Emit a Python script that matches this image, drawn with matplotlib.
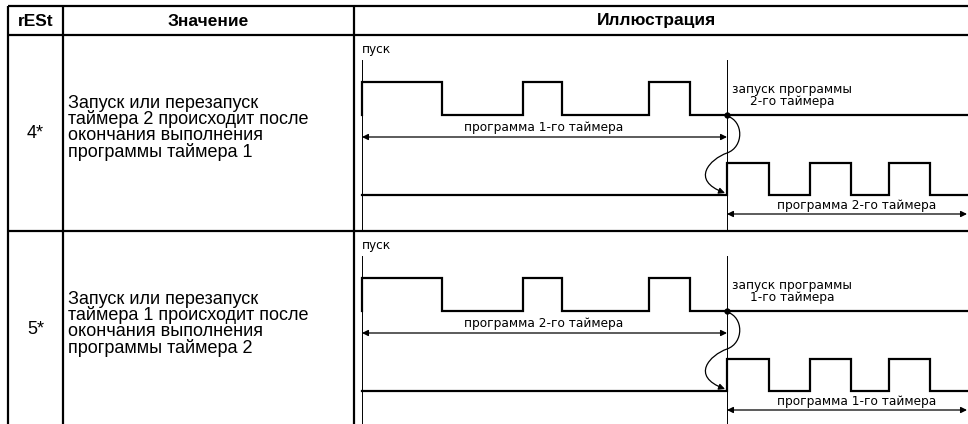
import matplotlib
matplotlib.use('Agg')
import matplotlib.pyplot as plt
from matplotlib.patches import FancyArrowPatch
from matplotlib.path import Path

# Table contents
headers = ["rESt", "Значение", "Иллюстрация"]
codes = ["4*", "5*"]
descriptions = [
    ["Запуск или перезапуск", "таймера 2 происходит после",
     "окончания выполнения", "программы таймера 1"],
    ["Запуск или перезапуск", "таймера 1 происходит после",
     "окончания выполнения", "программы таймера 2"],
]
first_prog = ["программа 1-го таймера", "программа 2-го таймера"]
second_prog = ["программа 2-го таймера", "программа 1-го таймера"]
start_label = ["запуск программы\n2-го таймера", "запуск программы\n1-го таймера"]

# Timing diagrams (time units = diagram ticks)
t_switch = 365
t_end = 606
t1_times = [0, 80, 161, 200, 287, 328, t_end]
t1_levels = [1, 0, 1, 0, 1, 0]
t2_times = [0, t_switch, 407, 448, 489, 527, 568, t_end]
t2_levels = [0, 1, 0, 1, 0, 1, 0]

W, H = 968, 424
fig = plt.figure(figsize=(W / 100, H / 100), dpi=100)
ax = fig.add_axes([0, 0, 1, 1])
ax.set_xlim(0, W)
ax.set_ylim(H, 0)
ax.axis('off')

BODY = ['Liberation Sans', 'DejaVu Sans']
NARROW = ['DejaVu Sans']

# grid of the table
col_x = [8, 63, 354]
top_y, head_y = 6, 35
row_h = 196
lw_tab = 1.6
for y in [top_y, head_y, head_y + row_h]:
    ax.plot([col_x[0], W], [y, y], color='black', lw=lw_tab, solid_capstyle='butt')
for x in col_x:
    ax.plot([x, x], [top_y, H], color='black', lw=lw_tab, solid_capstyle='butt')

head_cx = [35.5, 208, 657]
for cx, h in zip(head_cx, headers):
    ax.text(cx, 21, h, ha='center', va='center', fontsize=12.5, fontweight='bold', family=BODY)

X0 = 362  # pixel of t=0


def px(t):
    return X0 + t


def step_xy(times, levels, y_hi, y_lo, start_edge=False):
    xs, ys = [], []
    if start_edge:
        xs.append(px(times[0]))
        ys.append(y_lo)
    for i, lv in enumerate(levels):
        y = y_hi if lv else y_lo
        xs += [px(times[i]), px(times[i + 1])]
        ys += [y, y]
    return xs, ys


def dim_arrow(x1, x2, y):
    ax.annotate('', xy=(x2, y), xytext=(x1, y),
                arrowprops=dict(arrowstyle='<|-|>', color='black', lw=0.9,
                                mutation_scale=9, shrinkA=0, shrinkB=0))


def small(x, y, s, **kw):
    ax.text(x, y, s, va='center', fontsize=9.7, family=NARROW, fontstretch='condensed', **kw)


for r in range(2):
    top = head_y + r * row_h
    # left columns
    ax.text(35.5, top + 98, codes[r], ha='center', va='center', fontsize=13, family=BODY)
    for i, line in enumerate(descriptions[r]):
        ax.text(68, top + 68 + i * 16.3, line, ha='left', va='center', fontsize=13, family=BODY)

    # diagram
    small(px(0), top + 15, "пуск", ha='left')
    for t in [0, t_switch]:
        ax.plot([px(t), px(t)], [top + 25, top + row_h], color='black', lw=0.7)

    y1_hi, y1_lo = top + 47, top + 80
    xs, ys = step_xy(t1_times, t1_levels, y1_hi, y1_lo, start_edge=True)
    ax.plot(xs, ys, color='black', lw=1.6, solid_joinstyle='miter')

    y2_hi, y2_lo = top + 128, top + 160
    xs, ys = step_xy(t2_times, t2_levels, y2_hi, y2_lo)
    ax.plot(xs, ys, color='black', lw=1.6, solid_joinstyle='miter')

    dim_arrow(px(0), px(t_switch), top + 102)
    small((px(0) + px(t_switch)) / 2 - 1, top + 93, first_prog[r], ha='center')
    dim_arrow(px(t_switch), W - 1, top + 179)
    small(857, top + 171, second_prog[r], ha='center')
    small(792, top + 61, start_label[r], ha='center', linespacing=0.9)

    ax.plot(px(t_switch), y1_lo, 'o', color='black', ms=3.5)
    xs_ = px(t_switch)
    path = Path([(xs_, y1_lo + 1), (xs_ + 17, top + 86), (xs_ + 17, top + 112), (xs_, top + 118),
                 (xs_ - 17, top + 124), (xs_ - 37, top + 145), (xs_ - 2, top + 158)],
                [Path.MOVETO, Path.CURVE4, Path.CURVE4, Path.CURVE4,
                 Path.CURVE4, Path.CURVE4, Path.CURVE4])
    ax.add_patch(FancyArrowPatch(path=path, arrowstyle='-|>', mutation_scale=9,
                                 color='black', lw=0.9))

fig.savefig('out.png', dpi=100)
